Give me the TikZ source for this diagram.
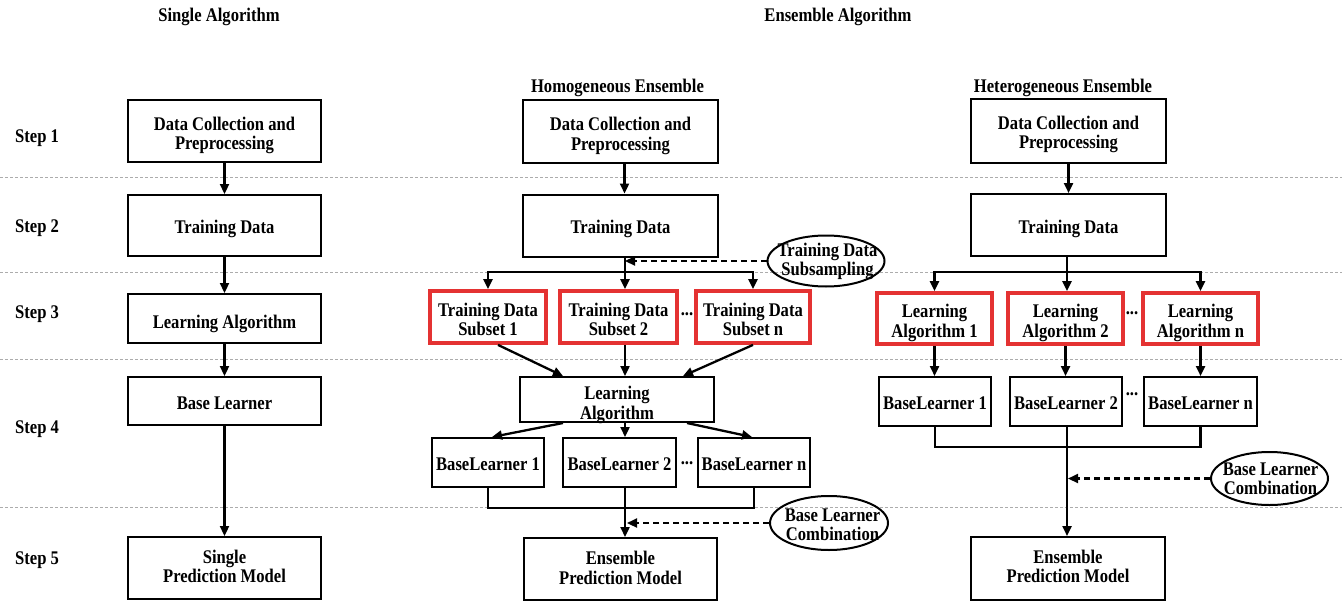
\documentclass[tikz,border=0pt]{standalone}
\usepackage{fontspec}
\setmainfont{Liberation Serif}[FakeStretch=0.86]
\usetikzlibrary{arrows.meta,shapes.geometric}
\definecolor{boxred}{RGB}{228,50,50}
\newcommand\fs{\fontsize{19.3}{19.5}\selectfont\bfseries}
\tikzset{
  txt/.style={font=\fs, align=center, inner sep=0pt},
  one/.style={text height=#1pt, text depth=0pt},
  two/.style={text height=#1pt, text depth=0pt},
  box/.style={draw, line width=2pt, txt},
  redbox/.style={draw=boxred, line width=3.8pt, txt},
  sz/.style 2 args={minimum width=#1pt, minimum height=#2pt},
  ar/.style={-{Triangle[length=10pt,width=9pt]}, line width=2.3pt},
  dar/.style={-{Triangle[length=10pt,width=9pt]}, line width=2.3pt, dash pattern=on 6pt off 4pt},
  ln/.style={line width=2.3pt},
  sep/.style={draw=gray!65, line width=0.9pt, dash pattern=on 3pt off 2pt},
  ell/.style={draw, ellipse, line width=2pt, inner sep=0pt},
  dots/.style={font=\fs, inner sep=0pt}
}
\begin{document}
\begin{tikzpicture}[x=1pt,y=-1pt]
\useasboundingbox (0,0) rectangle (1342,602);

% separators
\draw[sep] (0,177) -- (1342,177);
\draw[sep] (0,272) -- (1342,272);
\draw[sep] (0,359) -- (1342,359);
\draw[sep] (0,507) -- (1342,507);

% titles
\node[txt, one=13] (tSingle) at (219,15) {Single Algorithm};
\node[txt, one=13] (tEns) at (838,15) {Ensemble Algorithm};
\node[txt, one=13] (tHom) at (617.5,86) {Homogeneous Ensemble};
\node[txt, one=13] (tHet) at (1063,86) {Heterogeneous Ensemble};

% steps
\node[txt, one=13, anchor=west] (st1) at (15,136) {Step 1};
\node[txt, one=13, anchor=west] (st2) at (15,226) {Step 2};
\node[txt, one=13, anchor=west] (st3) at (15,312) {Step 3};
\node[txt, one=13, anchor=west] (st4) at (15,427) {Step 4};
\node[txt, one=13, anchor=west] (st5) at (15,558) {Step 5};

% ---------- Single algorithm ----------
\node[box, sz={193}{62}, two=37.1] (sDC) at (224.5,131) {Data Collection and\\Preprocessing};
\node[box, sz={193}{61}, one=15] (sTD) at (224.5,225.5) {Training Data};
\node[box, sz={193}{49}, one=20.5] (sLA) at (224.5,318.5) {Learning Algorithm};
\node[box, sz={193}{48}, one=17.6] (sBL) at (224.5,401) {Base Learner};
\node[box, sz={193}{62}, two=29.9] (sPM) at (224.5,568) {Single\\Prediction Model};
\draw[ar] (sDC) -- (sTD);
\draw[ar] (sTD) -- (sLA);
\draw[ar] (sLA) -- (sBL);
\draw[ar] (sBL) -- (sPM);

% ---------- Homogeneous ensemble ----------
\node[box, sz={195}{63}, two=37.9] (hDC) at (620.5,131.5) {Data Collection and\\Preprocessing};
\node[box, sz={195}{62}, one=15.4] (hTD) at (620.5,225.5) {Training Data};
\coordinate (hj) at (625,272);
\node[redbox, sz={116}{52}, two=37.9] (hS1) at (488,317) {Training Data\\Subset 1};
\node[redbox, sz={117}{52}, two=37.9] (hS2) at (618.5,317) {Training Data\\Subset 2};
\node[redbox, sz={114}{52}, two=37.9] (hSn) at (753,317) {Training Data\\Subset n};
\node[dots] (hd1) at (687,314) {...};
\node[box, sz={194}{45}, two=39.5] (hLA) at (617,399.5) {Learning\\Algorithm};
\node[box, sz={112}{49}, one=16.6] (hB1) at (488,462.5) {BaseLearner 1};
\node[box, sz={113}{49}, one=16.6] (hB2) at (619.5,462.5) {BaseLearner 2};
\node[box, sz={112}{49}, one=16.6] (hBn) at (754,462.5) {BaseLearner n};
\node[dots] (hd2) at (687,463) {...};
\node[box, sz={193}{62}, two=30.1] (hPM) at (620.5,569) {Ensemble\\Prediction Model};
\node[ell, minimum width=117pt, minimum height=51pt] (hE1) at (826,261) {};
\node[txt, two=32.5] (hE1t) at (827.5,259.7) {Training Data\\Subsampling};
\node[ell, minimum width=118pt, minimum height=54pt] (hE2) at (829,523) {};
\node[txt, two=32.5] (hE2t) at (832.5,524.7) {Base Learner\\Combination};

\draw[ar] ([xshift=4pt]hDC.south) -- ([xshift=4pt]hTD.north);
\draw[ln] (hTD.south -| hj) -- (hj);
\draw[ar] (hj) -| (hS1);
\draw[ar] (hj) -- (hj |- hS2.north);
\draw[ar] (hj) -| (hSn);
\draw[dar] (hE1.west) -- (hE1.west -| hj);
\draw[ar] ([xshift=10pt]hS1.south) -- ([xshift=-54pt]hLA.north);
\draw[ar] (hS2.south -| hj) -- (hLA.north -| hj);
\draw[ar] (hSn.south) -- ([xshift=66pt]hLA.north);
\draw[ar] ([xshift=-54pt]hLA.south) -- ([xshift=4pt]hB1.north);
\draw[ar] (hLA.south -| hj) -- (hB2.north -| hj);
\draw[ar] ([xshift=70pt]hLA.south) -- ([xshift=-2pt]hBn.north);
\draw[ln] (hB1.south) -- ++(0,20) -| (hBn.south);
\draw[ar] (hB2.south -| hj) -- (hPM.north -| hj);
\draw[dar] (hE2.west) -- ([xshift=2pt]hE2.west -| hj);

% ---------- Heterogeneous ensemble ----------
\node[box, sz={195}{64}, two=35.9] (tDC) at (1068.5,131) {Data Collection and\\Preprocessing};
\node[box, sz={195}{62}, one=16.4] (tTD) at (1068.5,225) {Training Data};
\coordinate (tj) at (1067,272);
\node[redbox, sz={115}{51}, two=37.1] (tL1) at (934.5,318.5) {Learning\\Algorithm 1};
\node[redbox, sz={115}{51}, two=37.1] (tL2) at (1065.5,318.5) {Learning\\Algorithm 2};
\node[redbox, sz={115}{51}, two=37.1] (tLn) at (1200.5,318.5) {Learning\\Algorithm n};
\node[dots] (td1) at (1132,313) {...};
\node[box, sz={112}{49}, one=16.6] (tB1) at (935,401.5) {BaseLearner 1};
\node[box, sz={112}{49}, one=16.6] (tB2) at (1066,401.5) {BaseLearner 2};
\node[box, sz={113}{49}, one=16.6] (tBn) at (1200.5,401.5) {BaseLearner n};
\node[dots] (td2) at (1132,394) {...};
\node[box, sz={194}{63}, two=28.1] (tPM) at (1068,568.5) {Ensemble\\Prediction Model};
\node[ell, minimum width=117pt, minimum height=53pt] (tE) at (1269.5,478.5) {};
\node[txt, two=32.5] (tEt) at (1270.5,478.3) {Base Learner\\Combination};

\draw[ar] (tDC) -- (tTD);
\draw[ln] (tTD.south -| tj) -- (tj);
\draw[ar] (tj) -| (tL1);
\draw[ar] (tj) -- (tj |- tL2.north);
\draw[ar] (tj) -| (tLn);
\draw[ar] (tL1.south) -- (tL1.south |- tB1.north);
\draw[ar] (tL2.south) -- (tL2.south |- tB2.north);
\draw[ar] (tLn.south) -- (tLn.south |- tBn.north);
\draw[ln] (tB1.south) -- ++(0,20) -| (tBn.south);
\draw[ar] (tB2.south -| tj) -- (tPM.north -| tj);
\draw[dar] (tE.west) -- ([xshift=1pt]tE.west -| tj);
\end{tikzpicture}
\end{document}
